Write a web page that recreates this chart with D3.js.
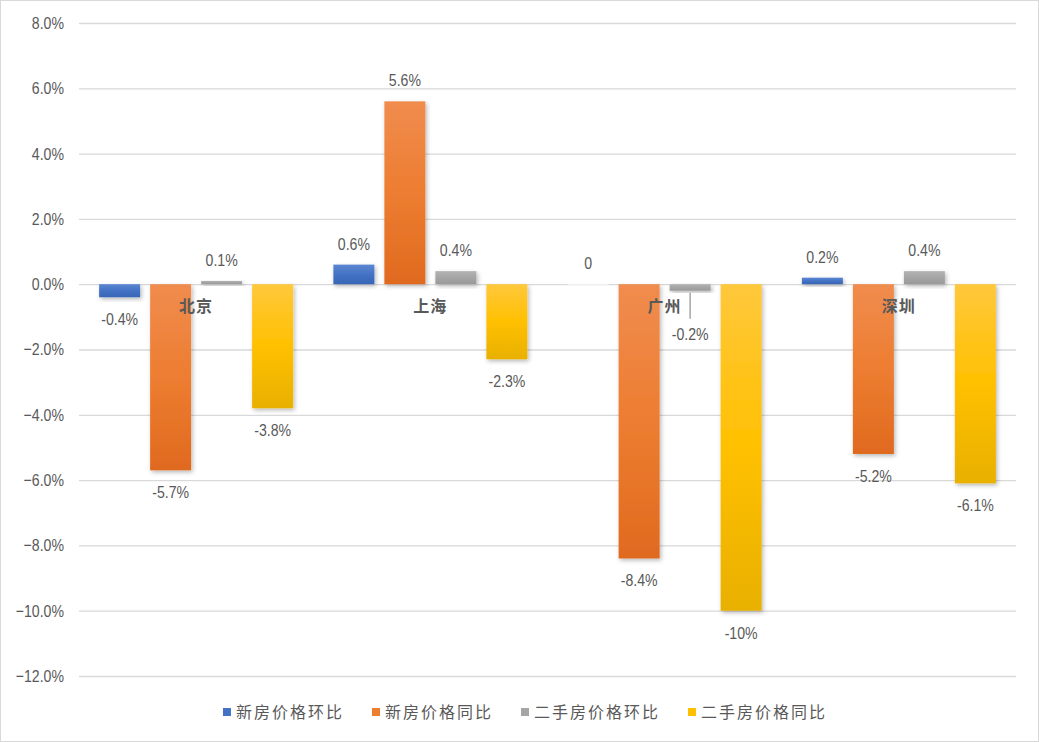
<!DOCTYPE html>
<html>
<head>
<meta charset="utf-8">
<script src="https://cdn.jsdelivr.net/npm/d3@7"></script>
<style>
  body { margin: 0; background: #fff; }
  svg { display: block; }
</style>
</head>
<body>
<script>
const cities = ["北京", "上海", "广州", "深圳"];
const seriesNames = ["新房价格环比", "新房价格同比", "二手房价格环比", "二手房价格同比"];
const newMoM = [-0.4, 0.6, 0, 0.2];
const newYoY = [-5.7, 5.6, -8.4, -5.2];
const usedMoM = [0.1, 0.4, -0.2, 0.4];
const usedYoY = [-3.8, -2.3, -10, -6.1];
const labelTexts = [
  ["-0.4%", "0.6%", "0", "0.2%"],
  ["-5.7%", "5.6%", "-8.4%", "-5.2%"],
  ["0.1%", "0.4%", "-0.2%", "0.4%"],
  ["-3.8%", "-2.3%", "-10%", "-6.1%"]
];
const yTicks = [8, 6, 4, 2, 0, -2, -4, -6, -8, -10, -12];

const seriesValues = [newMoM, newYoY, usedMoM, usedYoY];
const gradStops = [
  ["#5b87d2", "#4472c4", "#3865b6"],
  ["#f08c4e", "#ed7d31", "#e06a1f"],
  ["#b3b3b3", "#a5a5a5", "#999999"],
  ["#ffc83c", "#ffc000", "#e8b000"]
];
const legendColors = ["#4472c4", "#ed7d31", "#a5a5a5", "#ffc000"];

const width = 1039, height = 742;
const margin = { left: 79, right: 23 };

const svg = d3.select("body").append("svg")
  .attr("width", width).attr("height", height);

svg.append("rect")
  .attr("x", 0.5).attr("y", 0.5)
  .attr("width", width - 1).attr("height", height - 1)
  .attr("fill", "#fff").attr("stroke", "#d9d9d9");

const defs = svg.append("defs");
gradStops.forEach((s, i) => {
  const g = defs.append("linearGradient").attr("id", "grad" + i)
    .attr("x1", 0).attr("y1", 0).attr("x2", 0).attr("y2", 1);
  g.append("stop").attr("offset", "0%").attr("stop-color", s[0]);
  g.append("stop").attr("offset", "50%").attr("stop-color", s[1]);
  g.append("stop").attr("offset", "100%").attr("stop-color", s[2]);
});
const shadow = defs.append("filter").attr("id", "shadow")
  .attr("x", "-20%").attr("y", "-20%").attr("width", "150%").attr("height", "150%");
shadow.append("feDropShadow")
  .attr("dx", 1.5).attr("dy", 2).attr("stdDeviation", 2)
  .attr("flood-color", "#000").attr("flood-opacity", 0.28);

const y = d3.scaleLinear().domain([-12, 8]).range([676, 23]);
const x0 = d3.scaleBand().domain(cities).range([margin.left, width - margin.right]);
const groupW = 194;
const x1 = d3.scaleBand().domain(d3.range(4))
  .range([0, groupW]).paddingInner(10 / 51);
const off = (x0.bandwidth() - groupW) / 2;

const numFont = "'Liberation Sans', Arial, sans-serif";
const cjkFont = "'Noto Sans CJK SC', sans-serif";

// squeeze number text to mimic a narrow face
function narrow(sel) {
  sel.each(function () {
    const w = this.getComputedTextLength();
    d3.select(this).attr("textLength", w * 0.83).attr("lengthAdjust", "spacingAndGlyphs");
  });
}

// grid + y axis
const yAxis = d3.axisLeft(y).tickValues(yTicks)
  .tickSize(-(width - margin.left - margin.right))
  .tickPadding(15)
  .tickFormat(d => d3.format(".1f")(d) + "%");
svg.append("g")
  .attr("transform", `translate(${margin.left},0)`)
  .call(yAxis)
  .call(g => g.select(".domain").remove())
  .call(g => g.selectAll("line").attr("stroke", "#d9d9d9").attr("stroke-width", 1.3))
  .call(g => g.selectAll("text")
    .attr("fill", "#595959")
    .style("font-family", numFont).style("font-size", "17px")
    .call(narrow));

// bars
const barData = [];
seriesValues.forEach((vals, si) => {
  vals.forEach((v, ci) => barData.push({ si, ci, v, city: cities[ci], label: labelTexts[si][ci] }));
});
const bx = d => x0(d.city) + off + x1(d.si);

svg.append("g").selectAll("rect")
  .data(barData)
  .join("rect")
  .attr("x", d => bx(d))
  .attr("width", x1.bandwidth())
  .attr("y", d => y(Math.max(0, d.v)))
  .attr("height", d => Math.max(Math.abs(y(d.v) - y(0)), 0.6))
  .attr("fill", d => d.v === 0 ? "#ffffff" : `url(#grad${d.si})`)
  .attr("filter", "url(#shadow)");

// category labels
svg.append("g").selectAll("text")
  .data(cities)
  .join("text")
  .attr("x", d => x0(d) + x0.bandwidth() / 2)
  .attr("y", y(0) + 28)
  .attr("text-anchor", "middle")
  .attr("fill", "#595959")
  .style("font-family", cjkFont).style("font-size", "16px")
  .style("font-weight", "bold").style("letter-spacing", "1px")
  .text(d => d);

// data labels
const labelShift = d => (d.city === "广州" && d.si === 2) ? 21 : 0;
svg.append("g").selectAll("text")
  .data(barData)
  .join("text")
  .attr("x", d => bx(d) + x1.bandwidth() / 2)
  .attr("y", d => d.v >= 0 ? y(d.v) - 15 : y(d.v) + 28 + labelShift(d))
  .attr("text-anchor", "middle")
  .attr("fill", "#595959")
  .style("font-family", numFont).style("font-size", "17px")
  .text(d => d.label)
  .call(narrow);

// leader line for the shifted label
svg.append("g").selectAll("line")
  .data(barData.filter(d => labelShift(d) > 0))
  .join("line")
  .attr("x1", d => bx(d) + x1.bandwidth() / 2)
  .attr("x2", d => bx(d) + x1.bandwidth() / 2)
  .attr("y1", d => y(d.v) + 2)
  .attr("y2", d => y(d.v) + 28)
  .attr("stroke", "#a6a6a6").attr("stroke-width", 1.5);

// legend
const legend = svg.append("g");
const items = legend.selectAll("g")
  .data(seriesNames)
  .join("g");
items.append("rect")
  .attr("width", 8).attr("height", 8)
  .attr("y", -4)
  .attr("fill", (d, i) => legendColors[i]);
items.append("text")
  .attr("x", 13).attr("y", 6)
  .attr("fill", "#595959")
  .style("font-family", cjkFont).style("font-size", "16px")
  .style("letter-spacing", "2px")
  .text(d => d);
const gap = 28;
const widths = [];
items.each(function () {
  widths.push(13 + d3.select(this).select("text").node().getComputedTextLength());
});
const total = d3.sum(widths) + gap * (widths.length - 1);
let start = 525 - total / 2;
items.attr("transform", (d, i) => {
  const t = `translate(${start},712)`;
  start += widths[i] + gap;
  return t;
});
</script>
</body>
</html>
